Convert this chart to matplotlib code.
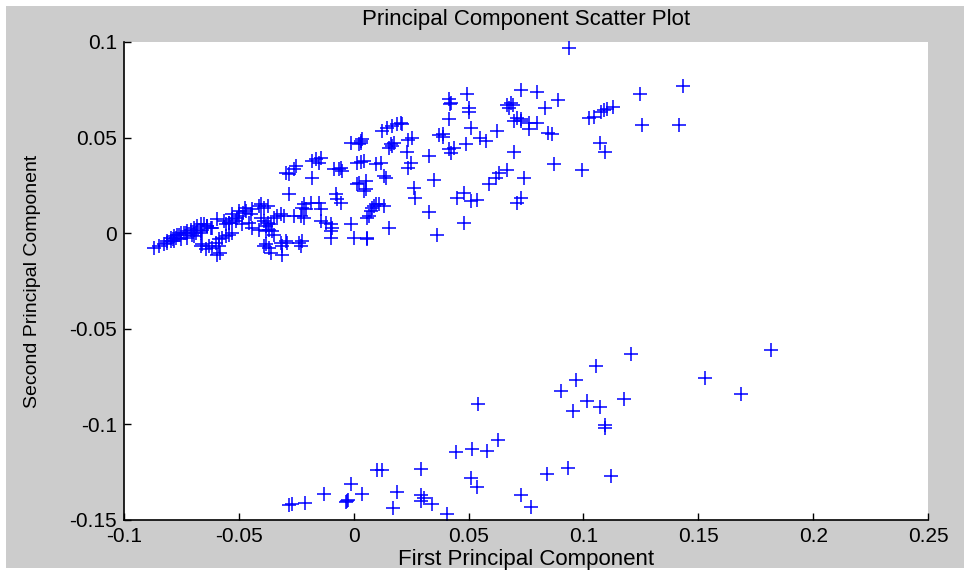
import matplotlib
matplotlib.use("Agg")
import matplotlib.pyplot as plt
from matplotlib.patches import Rectangle

# upper band of points (first PC, second PC)
x_upper = [
    0.0937, 0.1432, 0.1248, 0.0888, 0.1128, 0.1104, 0.1089, 0.1075, 0.1046, 0.1024,
    0.1255, 0.1415, 0.1072, 0.1096, 0.0871, 0.0992, 0.0865,
    0.0727, 0.0797, 0.0494, 0.0415, 0.0422, 0.0419, 0.0502, 0.0502,
    0.0666, 0.0683, 0.0695, 0.0676, 0.0831, 0.0415, 0.0205, 0.0212,
    0.0711, 0.0727, 0.0697, 0.0729, 0.0763, 0.0763, 0.0799, 0.0847, 0.0509, 0.0625,
    0.0390, 0.0390, 0.0371, 0.0255, 0.0236, 0.0552, 0.0574,
    0.0487, 0.0436, 0.0415, 0.0422, 0.0233, 0.0328, 0.0697,
    0.0248, 0.0236, 0.0666, 0.0632, 0.0618, 0.0740, 0.0588, 0.0349,
    0.0261, 0.0268, 0.0480, 0.0451, 0.0509, 0.0538, 0.0727, 0.0711,
    0.0328, 0.0480, 0.0363,
    0.0030, 0.0038, 0.0125, 0.0146, 0.0168, 0.0190,
    0.0161, 0.0168, 0.0154, 0.0176, 0.0045, 0.0096, 0.0117, 0.0130,
    0.0052, 0.0052, 0.0088, 0.0110, 0.0132, 0.0060, 0.0154, 0.0060, 0.0060,
    -0.0013, 0.0023, 0.0030,
    -0.0144, -0.0165, -0.0180, -0.0151, -0.0252, -0.0259, -0.0296, -0.0281,
    -0.0064, -0.0049, -0.0057, -0.0086, 0.0016, 0.0030,
    -0.0180, 0.0023, 0.0016, 0.0045, 0.0139, -0.0281,
    -0.0078, -0.0071, -0.0057,
    -0.0216, -0.0223, -0.0209, -0.0187, -0.0151, -0.0144,
    0.0096, 0.0080, 0.0074, -0.0375, -0.0404,
    -0.0318, -0.0332, -0.0347, -0.0303, -0.0259, -0.0230, -0.0216,
    -0.0404, -0.0390, -0.0375, -0.0361, -0.0383, -0.0369, -0.0354, -0.0347,
    -0.0144, -0.0122, -0.0100, -0.0093, -0.0100, -0.0100, -0.0013, 0.0067,
    -0.0296, -0.0318, -0.0311, -0.0289, -0.0223, -0.0230, -0.0238,
    -0.0369, -0.0361, -0.0311,
    -0.0390, -0.0470, -0.0484, -0.0448, -0.0499, -0.0506,
    -0.0594, -0.0565, -0.0543, -0.0529, -0.0558,
    -0.0637, -0.0615, -0.0659, -0.0666, -0.0688, -0.0702, -0.0731,
    -0.0759, -0.0773, -0.0788, -0.0797, -0.0811, -0.0826, -0.0848, -0.0869,
    -0.0659, -0.0630, -0.0601, -0.0587, -0.0572, -0.0558, -0.0543, -0.0529,
    -0.0644, -0.0615, -0.0587, -0.0666, -0.0390, 0.0001,
    -0.0811, -0.0797, -0.0782, -0.0768, -0.0753, -0.0739, -0.0724, -0.0710,
    -0.0695, -0.0680, -0.0666, -0.0652, -0.0637, -0.0623,
    -0.0782, -0.0753, -0.0724, -0.0695, -0.0666,
    -0.0594, -0.0580,
    -0.0529, -0.0500, -0.0471, -0.0442, -0.0412,
    -0.0543, -0.0514, -0.0485, -0.0455, -0.0441, -0.0412, -0.0383, -0.0383,
]
y_upper = [
    0.0968, 0.0770, 0.0727, 0.0695, 0.0662, 0.0652, 0.0644, 0.0636, 0.0608, 0.0601,
    0.0564, 0.0564, 0.0470, 0.0424, 0.0360, 0.0330, 0.0520,
    0.0750, 0.0739, 0.0727, 0.0700, 0.0683, 0.0674, 0.0653, 0.0636,
    0.0671, 0.0683, 0.0671, 0.0657, 0.0653, 0.0596, 0.0578, 0.0570,
    0.0604, 0.0596, 0.0587, 0.0587, 0.0578, 0.0543, 0.0578, 0.0522, 0.0552, 0.0535,
    0.0520, 0.0503, 0.0514, 0.0500, 0.0486, 0.0500, 0.0482,
    0.0465, 0.0447, 0.0439, 0.0421, 0.0427, 0.0404, 0.0427,
    0.0368, 0.0339, 0.0328, 0.0316, 0.0290, 0.0290, 0.0255, 0.0278,
    0.0234, 0.0182, 0.0211, 0.0182, 0.0168, 0.0176, 0.0182, 0.0159,
    0.0112, 0.0051, -0.0007,
    0.0482, 0.0490, 0.0535, 0.0552, 0.0561, 0.0570,
    0.0465, 0.0456, 0.0447, 0.0473, 0.0377, 0.0360, 0.0368, 0.0299,
    0.0272, 0.0229, 0.0141, 0.0150, 0.0141, 0.0080, 0.0028, -0.0025, -0.0033,
    0.0473, 0.0465, 0.0473,
    0.0395, 0.0386, 0.0377, 0.0368, 0.0351, 0.0334, 0.0316, 0.0308,
    0.0334, 0.0325, 0.0342, 0.0334, 0.0368, 0.0374,
    0.0290, 0.0264, 0.0255, 0.0220, 0.0290, 0.0203,
    0.0203, 0.0177, 0.0159,
    0.0150, 0.0133, 0.0124, 0.0159, 0.0159, 0.0124,
    0.0150, 0.0133, 0.0115, 0.0141, 0.0150,
    0.0098, 0.0089, 0.0080, 0.0089, 0.0089, 0.0089, 0.0080,
    0.0080, 0.0063, 0.0054, 0.0046, 0.0037, 0.0019, 0.0010, -0.0007,
    0.0063, 0.0054, 0.0046, 0.0028, 0.0010, -0.0025, 0.0046, 0.0089,
    -0.0042, -0.0051, -0.0068, -0.0051, -0.0042, -0.0068, -0.0051,
    -0.0077, -0.0103, -0.0112,
    0.0133, 0.0115, 0.0106, 0.0098, 0.0089, 0.0080,
    0.0072, 0.0063, 0.0054, 0.0072, 0.0046,
    0.0037, 0.0028, 0.0019, 0.0010, 0.0002, -0.0007, 0.0002,
    -0.0007, -0.0025, -0.0033, -0.0042, -0.0051, -0.0059, -0.0068, -0.0077,
    -0.0059, -0.0068, -0.0051, -0.0033, -0.0025, -0.0016, -0.0007, 0.0002,
    -0.0085, -0.0077, -0.0068, -0.0068, -0.0068, -0.0025,
    -0.0042, -0.0025, -0.0016, -0.0007, 0.0002, 0.0002, 0.0010, 0.0019,
    0.0028, 0.0037, 0.0046, 0.0046, 0.0037, 0.0028,
    -0.0042, -0.0033, -0.0025, -0.0016, 0.0002,
    -0.0112, -0.0103,
    0.0098, 0.0115, 0.0133, 0.0124, 0.0141,
    0.0054, 0.0063, 0.0046, 0.0054, 0.0028, 0.0019, 0.0010, -0.0059,
]

# lower group of points
x_lower = [
    0.1818, 0.1528, 0.1688, 0.1205, 0.1056, 0.0969, 0.0903, 0.1017, 0.1072, 0.1176,
    0.0954, 0.1093, 0.1093, 0.0542, 0.0629, 0.0581, 0.0516, 0.0447, 0.0294,
    0.0103, 0.0125, 0.0840, 0.0934, 0.1120, 0.0509, 0.0535, 0.0728, 0.0774,
    -0.0013, 0.0036, -0.0028, -0.0024, -0.0032, -0.0131, -0.0211, -0.0267, -0.0281,
    0.0189, 0.0171, 0.0294, 0.0306, 0.0291, 0.0342, 0.0407,
]
y_lower = [
    -0.0610, -0.0755, -0.0840, -0.0630, -0.0697, -0.0770, -0.0823, -0.0880, -0.0908, -0.0866,
    -0.0929, -0.1003, -0.1017, -0.0892, -0.1083, -0.1137, -0.1128, -0.1144, -0.1231,
    -0.1237, -0.1237, -0.1259, -0.1229, -0.1268, -0.1280, -0.1326, -0.1369, -0.1434,
    -0.1312, -0.1364, -0.1400, -0.1395, -0.1405, -0.1364, -0.1410, -0.1417, -0.1420,
    -0.1354, -0.1436, -0.1369, -0.1387, -0.1400, -0.1417, -0.1467,
]

x_ticks = [-0.1, -0.05, 0, 0.05, 0.1, 0.15, 0.2, 0.25]
x_tick_labels = ["-0.1", "-0.05", "0", "0.05", "0.1", "0.15", "0.2", "0.25"]
y_ticks = [-0.15, -0.1, -0.05, 0, 0.05, 0.1]
y_tick_labels = ["-0.15", "-0.1", "-0.05", "0", "0.05", "0.1"]

plt.rcParams['font.family'] = ['Liberation Sans', 'DejaVu Sans']

fig = plt.figure(figsize=(9.7, 5.75), dpi=100, facecolor="white")
fig.patches.append(Rectangle((0.006, 0.012), 0.988, 0.978, transform=fig.transFigure,
                             facecolor="#cccccc", edgecolor="none", zorder=-10))
ax = fig.add_axes([0.1278, 0.0957, 0.8289, 0.8313])
ax.set_facecolor("white")

ax.plot(x_upper + x_lower, y_upper + y_lower, linestyle="none", marker="+",
        color="#0000ff", markersize=10, markeredgewidth=1.1, clip_on=False)

ax.set_xlim(-0.1, 0.25)
ax.set_ylim(-0.15, 0.1)
ax.set_xticks(x_ticks)
ax.set_xticklabels(x_tick_labels)
ax.set_yticks(y_ticks)
ax.set_yticklabels(y_tick_labels)
ax.tick_params(direction="in", length=5, width=1, labelsize=15, colors="black")
ax.tick_params(axis="x", pad=5)
ax.tick_params(axis="y", pad=5)
ax.spines["top"].set_visible(False)
ax.spines["right"].set_visible(False)
ax.spines["left"].set_linewidth(1.2)
ax.spines["bottom"].set_linewidth(1.2)

ax.set_title("Principal Component Scatter Plot", fontsize=16, pad=12)
ax.set_xlabel("First Principal Component", fontsize=16, labelpad=2)
ax.set_ylabel("Second Principal Component", fontsize=14, labelpad=20)

fig.savefig("out.png", dpi=100, facecolor=fig.get_facecolor())
